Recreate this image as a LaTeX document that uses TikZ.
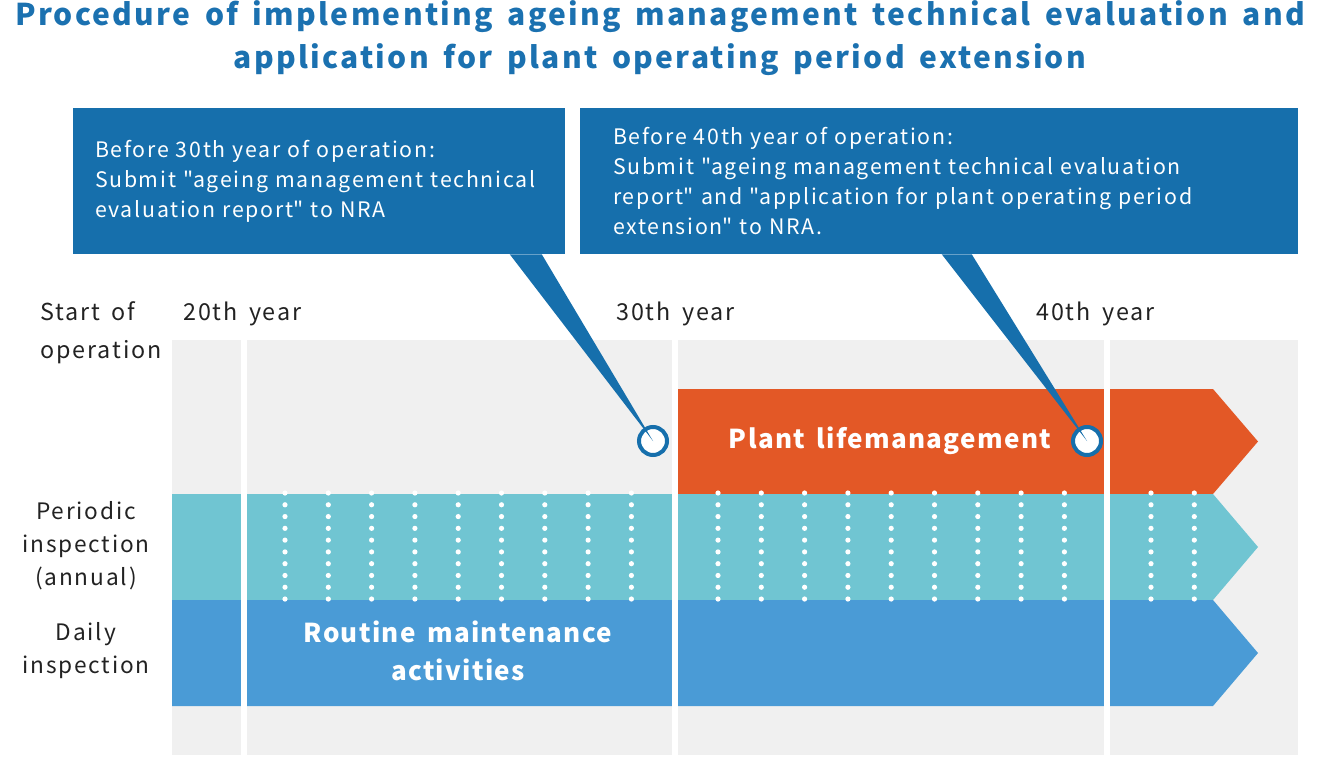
\documentclass[tikz,border=0pt]{standalone}
\usepackage{fontspec}
\setmainfont{Noto Sans CJK JP}[LetterSpace=8, WordSpace=1.6]
\usetikzlibrary{positioning,calc}
\definecolor{boxblue}{HTML}{166FAC}
\definecolor{titleblue}{HTML}{1B71B0}
\definecolor{lifeorange}{HTML}{E35826}
\definecolor{inspteal}{HTML}{70C5D2}
\definecolor{dailyblue}{HTML}{4A9BD6}
\definecolor{bggray}{HTML}{F0F0F0}
\definecolor{labelgray}{HTML}{222222}
\newcommand{\qq}{\textquotedbl}
\tikzset{
  titletext/.style={text=titleblue, align=center, font=\fontsize{22.5}{32}\selectfont\bfseries\addfontfeatures{LetterSpace=7.6}},
  calloutbox/.style={fill=boxblue, text=white, align=left, inner ysep=0pt, minimum height=109.5pt, font=\fontsize{16}{22.5}\selectfont},
  yearlabel/.style={anchor=west, text=labelgray, inner sep=0pt, align=left, font=\fontsize{17.5}{28.5}\selectfont},
  sidelabel/.style={text=labelgray, inner sep=0pt, align=center, font=\fontsize{17}{24.75}\selectfont},
  bandlabel/.style={text=white, align=center, font=\fontsize{19.5}{28.5}\selectfont\bfseries\addfontfeatures{LetterSpace=5}},
  marker/.style={circle, draw=boxblue, line width=3pt, fill=white, minimum size=21pt, inner sep=0pt},
  separator/.style={fill=white},
  dot/.style={fill=white}
}

\begin{document}
\begin{tikzpicture}[x=0.75pt, y=-0.75pt]
  \useasboundingbox (0,0) rectangle (1320,760);
  \node[titletext] (title) at (660,38) {Procedure of implementing ageing management technical evaluation and\\application for plant operating period extension};

  % timeline bands
  \fill[bggray] (172,340) rectangle (1298,755);
  \fill[lifeorange] (678,389) -- (1213,389) -- (1258,441.5) -- (1213,494) -- (678,494) -- cycle;
  \fill[inspteal] (172,494) -- (1213,494) -- (1258,547) -- (1213,600) -- (172,600) -- cycle;
  \fill[dailyblue] (172,600) -- (1213,600) -- (1258,653) -- (1213,706) -- (172,706) -- cycle;
  \foreach \x in {241,672,1104}
    \fill[separator] (\x,340) rectangle ++(6,415);
  \foreach \k in {0,...,8,10,11,...,18,20,21}
    \foreach \j in {0,...,9}
      \fill[dot] ({285+\k*43.3},{493+\j*11.78}) circle (2.6);

  \node[marker] (m30) at (653,441) {};
  \node[marker] (m40) at (1087,441) {};

  \node[calloutbox, inner xsep=16.5pt, text width=336pt] (c30) at (319,181) {Before 30th year of operation:\\Submit \qq ageing management technical\\evaluation report\qq\ to NRA};
  \node[calloutbox, inner xsep=24.75pt, text width=489pt] (c40) at (939,181) {Before 40th year of operation:\\Submit \qq ageing management technical evaluation\\report\qq\ and \qq application for plant operating period\\extension\qq\ to NRA.};
  \fill[boxblue] ($(c30.south west)+(437,0)$) -- (m30.center) -- ($(c30.south west)+(469,0)$) -- cycle;
  \fill[boxblue] ($(c40.south west)+(362,0)$) -- (m40.center) -- ($(c40.south west)+(392,0)$) -- cycle;

  \node[yearlabel] (start) at (40,333) {Start of\\operation};
  \node[yearlabel] (y20) at (183,314) {20th year};
  \node[yearlabel] (y30) at (616,314) {30th year};
  \node[yearlabel] (y40) at (1036,314) {40th year};
  \node[sidelabel] (periodic) at (86,546) {Periodic\\inspection\\(annual)};
  \node[sidelabel] (daily) at (86,651) {Daily\\inspection};
  \node[bandlabel] (life) at (890,441) {Plant lifemanagement};
  \node[bandlabel] (routine) at (458,651) {Routine maintenance\\activities};
\end{tikzpicture}
\end{document}
